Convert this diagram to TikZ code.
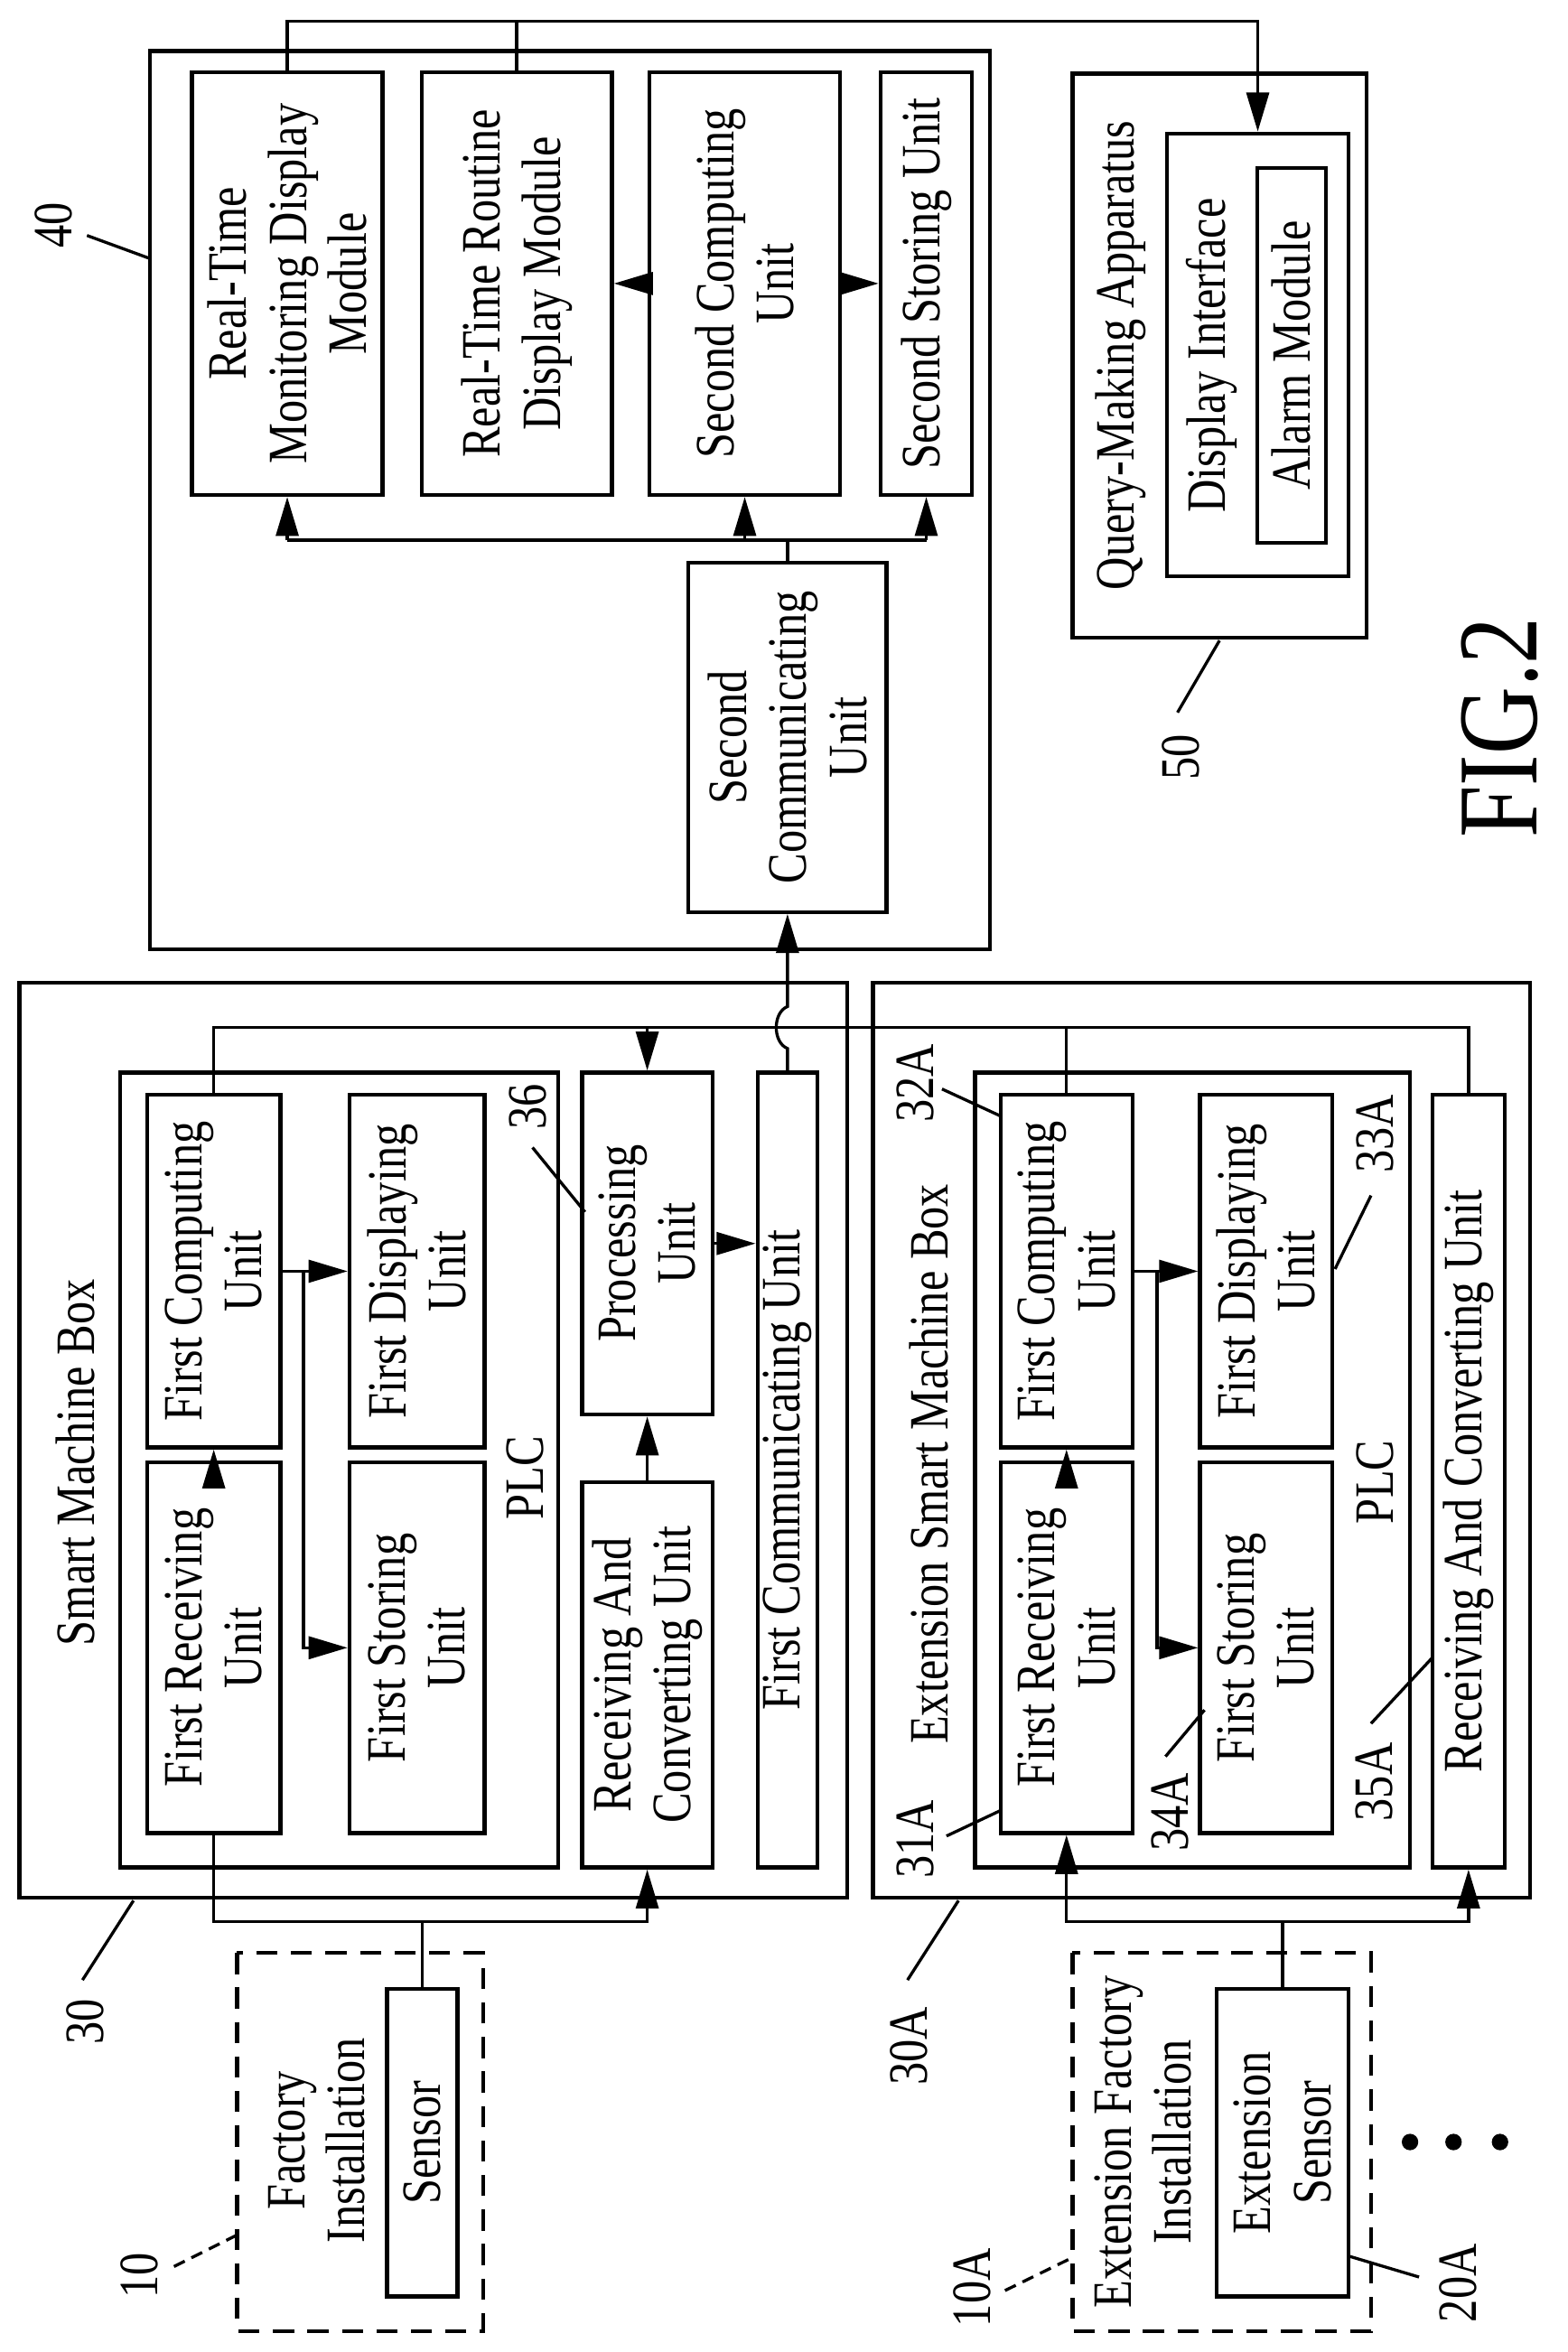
\documentclass[tikz,border=0pt]{standalone}
\usepackage{fontspec}
\setmainfont{Liberation Serif}[FakeStretch=0.82]
\usetikzlibrary{arrows.meta}
\newcommand\fs{\fontsize{37}{40}\selectfont}
\newcommand\bx[6]{\node[box,minimum width={#5pt-#3pt},minimum height={#4pt-#2pt}] (#1) at ({(#2+#4)/2},{(#3+#5)/2}) {#6};}
\newcommand\dbx[6]{\node[box,dashed,dash pattern=on 14pt off 9pt,minimum width={#5pt-#3pt},minimum height={#4pt-#2pt}] (#1) at ({(#2+#4)/2},{(#3+#5)/2}) {#6};}
\begin{document}
\begin{tikzpicture}[x=1pt,y=-1pt,
  box/.style={draw,line width=2.6pt,rotate=90,inner sep=0pt,align=center,font=\fs},
  lbl/.style={rotate=90,inner sep=0pt,align=center,font=\fs},
  ln/.style={line width=2pt},
  arr/.style={line width=2pt,-{Triangle[length=26pt,width=15pt]}}]
\useasboundingbox (0,0) rectangle (1045,1568);
% ---- 40
\bx{B40}{100}{34}{660}{633}{}
\bx{mon}{128}{48}{255}{330}{Real-Time\\Monitoring Display\\Module}
\bx{rr}{281}{48}{408}{330}{Real-Time Routine\\Display Module}
\bx{sc}{433}{48}{560}{330}{Second Computing\\Unit}
\bx{ss}{587}{48}{648}{330}{Second Storing Unit}
\bx{scomm}{459}{375}{591}{608}{Second\\Communicating\\Unit}
\node[lbl] (l40) at (36,150) {40};
\draw[ln] (58,157) -- (99,172);
% ---- 50
\bx{B50}{715}{49}{911}{425}{}
\bx{di}{778}{89}{899}{384}{}
\bx{al}{838}{112}{884}{362}{Alarm Module}
\node[lbl] (tq) at (747,237) {Query-Making Apparatus};
\node[lbl] (tdi) at (808,237) {Display Interface};
\node[lbl] (l50) at (787,505) {50};
\draw[ln] (785,475) -- (813,427);
\node[lbl,font=\fontsize{76}{80}\selectfont] (fig) at (1000,485) {FIG.2};
% connectors 40/50
\coordinate (top) at (0,14);
\draw[arr] (mon.east) |- (di.east|-top) -- (di.east);
\draw[ln] (rr.east) -- (rr.east|-top);
\draw[arr] (sc.north) -- (rr.south);
\draw[arr] (sc.south) -- (ss.north);
\coordinate (dist) at (0,360);
\draw[ln] (mon.west|-dist) -- (ss.west|-dist);
\draw[ln] (scomm.east) -- (scomm.east|-dist);
\draw[arr] (mon.west|-dist) -- (mon.west);
\draw[arr] (sc.west|-dist) -- (sc.west);
\draw[arr] (ss.west|-dist) -- (ss.west);
% ---- 30
\bx{B30}{13}{655}{565}{1265}{}
\bx{plc}{80}{715}{372}{1245}{}
\bx{fr}{98}{975}{187}{1222}{First Receiving\\Unit}
\bx{fc}{98}{730}{187}{965}{First Computing\\Unit}
\bx{fs}{233}{975}{323}{1222}{First Storing\\Unit}
\bx{fd}{233}{730}{323}{965}{First Displaying\\Unit}
\bx{pu}{388}{715}{475}{943}{Processing\\Unit}
\bx{rc}{388}{988}{475}{1245}{Receiving And\\Converting Unit}
\bx{fcu}{505}{715}{545}{1245}{First Communicating Unit}
\node[lbl] (t30) at (50,975) {Smart Machine Box};
\node[lbl] (tplc) at (350,985) {PLC};
\node[lbl] (l36) at (352,738) {36};
\draw[ln] (355,765) -- (390,808);
\node[lbl] (l30) at (57,1348) {30};
\draw[ln] (55,1320) -- (89,1267);
% ---- 30A
\bx{B30A}{582}{655}{1020}{1265}{}
\bx{plcA}{650}{715}{940}{1245}{}
\bx{frA}{667}{975}{755}{1222}{First Receiving\\Unit}
\bx{fcA}{667}{730}{755}{965}{First Computing\\Unit}
\bx{fsA}{800}{975}{888}{1222}{First Storing\\Unit}
\bx{fdA}{800}{730}{888}{965}{First Displaying\\Unit}
\bx{rcA}{955}{730}{1003}{1245}{Receiving And Converting Unit}
\node[lbl] (t30A) at (619,976) {Extension Smart Machine Box};
\node[lbl] (tplcA) at (917,988) {PLC};
\node[lbl] (l32A) at (610,722) {32A};
\draw[ln] (628,726) -- (667,744);
\node[lbl] (l31A) at (610,1226) {31A};
\draw[ln] (631,1224) -- (667,1207);
\node[lbl] (l34A) at (780,1208) {34A};
\draw[ln] (777,1171) -- (803,1140);
\node[lbl] (l33A) at (917,756) {33A};
\draw[ln] (914,797) -- (890,846);
\node[lbl] (l35A) at (916,1188) {35A};
\draw[ln] (914,1149) -- (955,1105);
\node[lbl] (l30A) at (606,1364) {30A};
\draw[ln] (605,1320) -- (639,1267);
% internal connectors
\draw[arr] (fr.east) -- (fc.west);
\draw[arr] (fc.south) -- (fd.north);
\draw[arr] ([xshift=14pt]fc.south) |- (fs.north);
\draw[arr] (rc.east) -- (pu.west);
\draw[arr] (pu.south) -- (pu.south-|fcu.north);
\draw[arr] (frA.east) -- (fcA.west);
\draw[arr] (fcA.south) -- (fdA.north);
\draw[arr] ([xshift=15pt]fcA.south) |- (fsA.north);
\coordinate (bus) at (0,685);
\draw[ln] (fc.east) |- (rcA.east|-bus) -- (rcA.east);
\draw[arr] (pu.east|-bus) -- (pu.east);
\draw[ln] (fcA.east) -- (fcA.east|-bus);
\draw[arr] (fcu.east) -- (fcu.east|-0,699) .. controls +(-10,-4) and +(-10,4) .. (fcu.east|-0,671) -- (scomm.west);
% ---- sensors
\dbx{fac}{158}{1302}{322}{1554}{}
\bx{sen}{258}{1326}{305}{1531}{Sensor}
\node[lbl] (tfac) at (211,1427) {Factory\\Installation};
\node[lbl] (l10) at (93,1517) {10};
\draw[ln,dashed,dash pattern=on 8pt off 5pt] (116,1511) -- (158,1490);
\dbx{efac}{715}{1302}{914}{1554}{}
\bx{esen}{811}{1326}{899}{1531}{Extension\\Sensor}
\node[lbl] (tefac) at (762,1428) {Extension Factory\\Installation};
\node[lbl] (l10A) at (648,1525) {10A};
\draw[ln,dashed,dash pattern=on 8pt off 5pt] (670,1527) -- (715,1505);
\node[lbl] (l20A) at (972,1522) {20A};
\draw[ln] (899,1504) -- (946,1518);
\fill (940,1428) circle (5.5) (969,1428) circle (5.5) (1000,1428) circle (5.5);
\coordinate (b) at (0,1281);
\draw[ln] (sen.east) -- (sen.east|-b);
\draw[arr] (fr.west) |- (sen.east|-b) -| (rc.west);
\draw[ln] (esen.east) -- (esen.east|-b);
\draw[arr] (esen.east|-b) -| (frA.west);
\draw[arr] (esen.east|-b) -| (rcA.west);
\end{tikzpicture}
\end{document}
